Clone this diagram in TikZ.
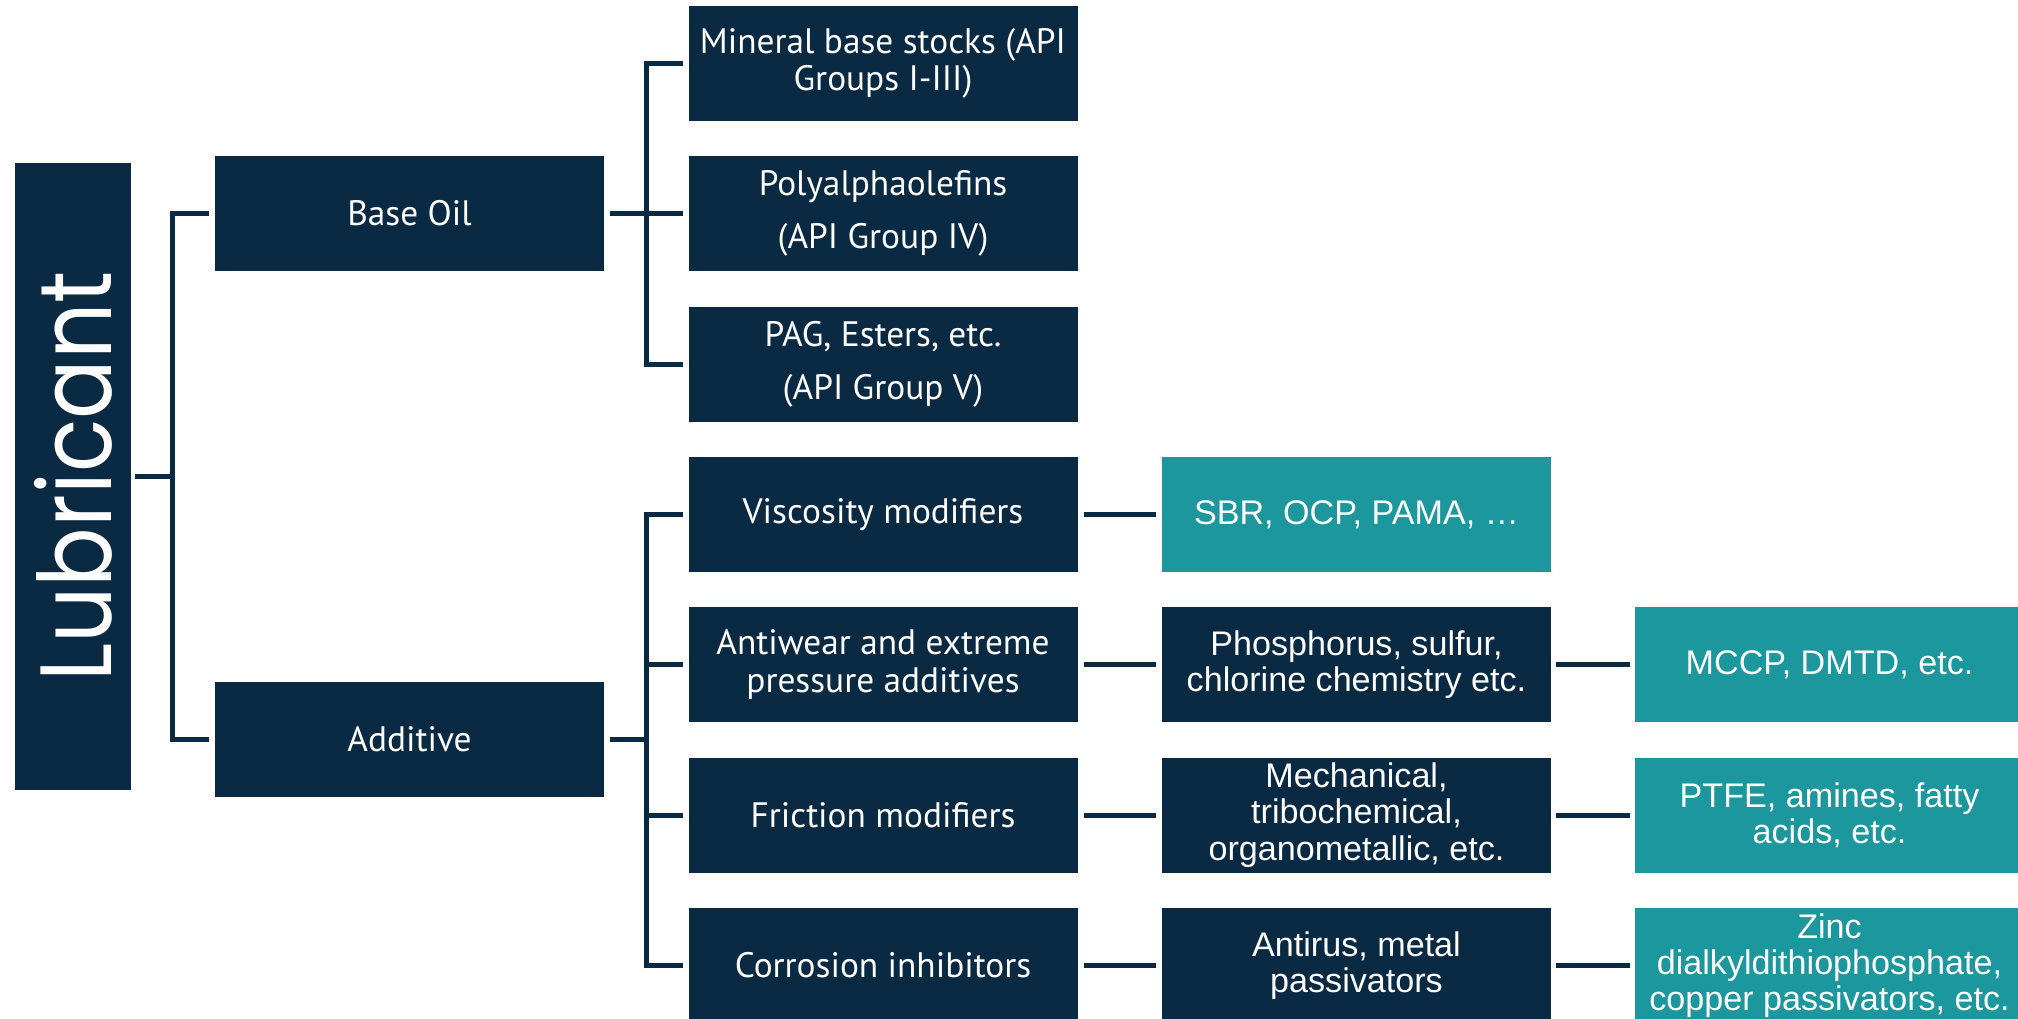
\documentclass[tikz,border=0pt]{standalone}
\usepackage{fontspec}
\setmainfont{PT Sans}
\newfontfamily\arialfont{Liberation Sans}
\newfontfamily\lubfont[FakeStretch=0.87]{Poppins}
\usepackage{tikz}
\definecolor{lubnavy}{HTML}{0A2942}
\definecolor{lubteal}{HTML}{1C979D}

\begin{document}
\begin{tikzpicture}[x=0.75pt, y=-0.75pt,
	navybox/.style={fill=lubnavy, text=white, inner sep=0pt, align=center,
		minimum width=291.75pt, minimum height=86.25pt,
		font=\fontsize{26.5}{28}\selectfont},
	chembox/.style={navybox, font=\arialfont\fontsize{25.6}{27.2}\selectfont},
	tealbox/.style={chembox, fill=lubteal},
	conn/.style={draw=lubnavy, line width=3.75pt}]
	\useasboundingbox (0,0) rectangle (2018,1019);
	\clip (0,0) rectangle (2018,1019);
	\node[navybox, rotate=90, minimum width=470.25pt, minimum height=87pt,
		font=\lubfont\fontsize{76}{76}\selectfont] (lub) at (73,476.5) {Lubricant};
	\node[navybox] (base) at (409.5,213.5) {Base Oil};
	\node[navybox] (addv) at (409.5,739.5) {Additive};
	%
	\node[navybox] (mineral) at (883,63.5) {Mineral base stocks (API\\Groups I-III)};
	\node[navybox] (pao) at (883,213.5) {Polyalphaolefins\\[12pt](API Group IV)};
	\node[navybox] (pag) at (883,364.5) {PAG, Esters, etc.\\[12pt](API Group V)};
	\node[navybox] (visc) at (883,514.5) {Viscosity modifiers};
	\node[navybox] (antiw) at (883,664.5) {Antiwear and extreme\\pressure additives};
	\node[navybox] (frict) at (883,815) {Friction modifiers};
	\node[navybox] (corr) at (883,965.5) {Corrosion inhibitors};
	%
	\node[tealbox] (viscex) at (1356.5,514.5) {SBR, OCP, PAMA, …};
	\node[chembox] (antiwch) at (1356.5,664.5) {Phosphorus, sulfur,\\chlorine chemistry etc.};
	\node[chembox] (frictch) at (1356.5,815) {Mechanical,\\tribochemical,\\organometallic, etc.};
	\node[chembox] (corrch) at (1356.5,965.5) {Antirus, metal\\passivators};
	%
	\node[tealbox] (antiwex) at (1829.5,664.5) {MCCP, DMTD, etc.};
	\node[tealbox] (frictex) at (1829.5,815) {PTFE, amines, fatty\\acids, etc.};
	\node[tealbox] (correx) at (1829.5,965.5) {Zinc\\dialkyldithiophosphate,\\copper passivators, etc.};
	%
	\coordinate (lubj) at (172,476.5);
	\coordinate (basej) at (646,213.5);
	\coordinate (addj) at (646,739.5);
	%
	\draw[conn, shorten <=3pt] (lub) -- (lubj);
	\draw[conn, shorten >=4.5pt] (lubj) |- (base.west);
	\draw[conn, shorten >=4.5pt] (lubj) |- (addv.west);
	%
	\draw[conn, shorten <=4.5pt] (base) -- (basej);
	\draw[conn, shorten >=3.75pt] (basej) |- (mineral.west);
	\draw[conn, shorten >=3.75pt] (basej) -- (pao.west);
	\draw[conn, shorten >=3.75pt] (basej) |- (pag.west);
	%
	\draw[conn, shorten <=4.5pt] (addv) -- (addj);
	\draw[conn, shorten >=3.75pt] (addj) |- (visc.west);
	\draw[conn, shorten >=3.75pt] (addj) |- (antiw.west);
	\draw[conn, shorten >=3.75pt] (addj) |- (frict.west);
	\draw[conn, shorten >=3.75pt] (addj) |- (corr.west);
	%
	\draw[conn, shorten <=4.5pt, shorten >=4.5pt] (visc) -- (viscex);
	\draw[conn, shorten <=4.5pt, shorten >=4.5pt] (antiw) -- (antiwch);
	\draw[conn, shorten <=4.5pt, shorten >=4.5pt] (frict) -- (frictch);
	\draw[conn, shorten <=4.5pt, shorten >=4.5pt] (corr) -- (corrch);
	\draw[conn, shorten <=3.75pt, shorten >=3.75pt] (antiwch) -- (antiwex);
	\draw[conn, shorten <=3.75pt, shorten >=3.75pt] (frictch) -- (frictex);
	\draw[conn, shorten <=3.75pt, shorten >=3.75pt] (corrch) -- (correx);
\end{tikzpicture}
\end{document}
